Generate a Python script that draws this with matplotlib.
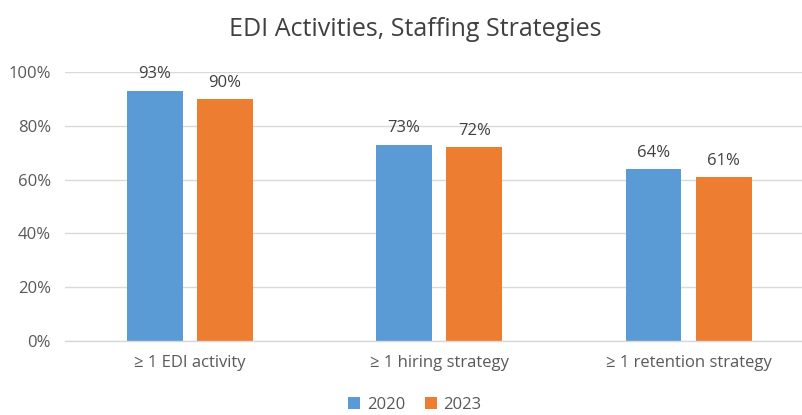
import matplotlib
matplotlib.use("Agg")
import matplotlib.pyplot as plt
import numpy as np

categories = ["≥ 1 EDI activity", "≥ 1 hiring strategy", "≥ 1 retention strategy"]
series_names = ["2020", "2023"]
values_2020 = [0.93, 0.73, 0.64]
values_2023 = [0.90, 0.72, 0.61]
yticks = [0, 0.2, 0.4, 0.6, 0.8, 1.0]
ytick_labels = ["0%", "20%", "40%", "60%", "80%", "100%"]
colors = ["#5B9BD5", "#ED7D31"]

plt.rcParams['font.family'] = ['Open Sans', 'DejaVu Sans']

fig = plt.figure(figsize=(8.02, 4.15), dpi=100)
ax = fig.add_axes([65/802, 1-341/415, 1-65/802, (341-72)/415])

x = np.arange(len(categories))
w = 0.224
off = 0.141
for i, (vals, name) in enumerate(zip([values_2020, values_2023], series_names)):
    pos = x + (-off if i == 0 else off)
    ax.bar(pos, vals, width=w, color=colors[i], label=name, zorder=3)
    for p, v in zip(pos, vals):
        ax.annotate(f"{round(v*100)}%", (p, v), xytext=(0, 6), textcoords="offset points",
                    ha="center", va="bottom", fontsize=12, color="#404040")

ax.set_xlim(-0.5, 2.454)
ax.set_ylim(0, 1.0)
ax.set_yticks(yticks)
ax.set_yticklabels(ytick_labels)
ax.set_xticks(x)
ax.set_xticklabels(categories)
ax.tick_params(axis='both', length=0, labelsize=12, colors="#595959")
ax.tick_params(axis='y', pad=10)
ax.tick_params(axis='x', pad=10)
ax.grid(axis='y', color="#D9D9D9", linewidth=1, zorder=0)
for s in ["top", "right", "left"]:
    ax.spines[s].set_visible(False)
ax.spines["bottom"].set_color("#D9D9D9")
ax.spines["bottom"].set_linewidth(1)
ax.spines["bottom"].set_zorder(4)

fig.text(415/802, 1-30/415, "EDI Activities, Staffing Strategies", ha="center", va="center",
         fontsize=18, color="#404040")

fig.legend(loc="center", bbox_to_anchor=(415/802, 1-405/415), ncol=2, frameon=False,
           fontsize=12, handlelength=0.7, handleheight=0.7, handletextpad=0.4, columnspacing=1.2,
           labelcolor="#595959")

fig.savefig("out.png", dpi=100)
